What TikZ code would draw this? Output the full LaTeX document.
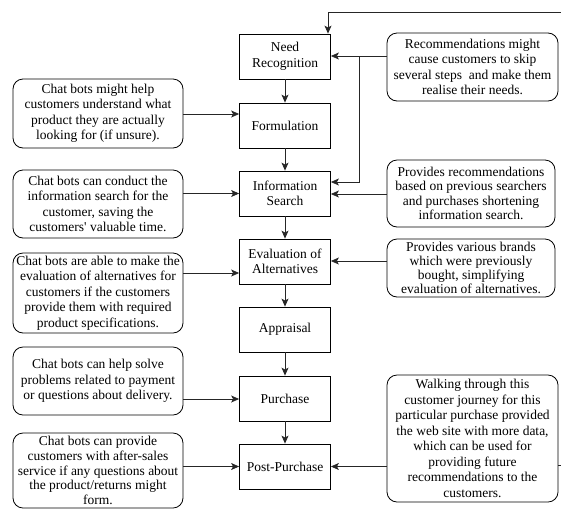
\documentclass[tikz,border=0pt]{standalone}
\usepackage{fontspec}
\setmainfont{Liberation Serif}
\newfontfamily\tnrfont{Liberation Serif}
\usetikzlibrary{arrows.meta}
\begin{document}
\begin{tikzpicture}[x=1pt,y=-1pt,
  base/.style={draw=black, line width=0.8pt, align=center, inner sep=0pt,
    font=\tnrfont\fontsize{13.5}{15.5}\selectfont},
  stage/.style={base, minimum width=91pt, minimum height=45pt},
  note/.style={base, rounded corners=10pt},
  conn/.style={draw=black!85, line width=0.8pt, -{Stealth[length=8pt,width=7pt,inset=2pt]}},
  plain/.style={draw=black!85, line width=0.8pt}]
\useasboundingbox (0,0) rectangle (561,509);

% main stages
\node[stage] (need)  at (285,56.5)  {Need\\Recognition};
\node[stage] (form)  at (285,125.5) {Formulation};
\node[stage] (info)  at (285,193.5) {Information\\Search};
\node[stage] (eval)  at (285,261.5) {Evaluation of\\Alternatives};
\node[stage] (appr)  at (285,329.5) {Appraisal};
\node[stage] (purch) at (285,398.5) {Purchase};
\node[stage] (post)  at (285,466.5) {Post-Purchase};

% left notes
\node[note, minimum width=170pt, minimum height=69pt] (l1) at (98,113.5)
  {Chat bots might help\\customers understand what\\product they are actually\\looking for (if unsure).};
\node[note, minimum width=170pt, minimum height=68pt] (l2) at (98,204)
  {Chat bots can conduct the\\information search for the\\customer, saving the\\customers' valuable time.};
\node[note, minimum width=170pt, minimum height=80pt] (l3) at (98,293)
  {Chat bots are able to make the\\evaluation of alternatives for\\customers if the customers\\provide them with required\\product specifications.};
\node[note, minimum width=170pt, minimum height=68pt] (l4) at (98,381)
  {Chat bots can help solve\\problems related to payment\\or questions about delivery.};
\node[note, minimum width=170pt, minimum height=75pt,
  font=\tnrfont\fontsize{13.5}{14.6}\selectfont] (l5) at (98,470.5)
  {Chat bots can provide\\customers with after-sales\\service if any questions about\\the product/returns might\\form.};

% right notes
\node[note, minimum width=171pt, minimum height=68pt] (r1) at (472.5,67)
  {Recommendations might\\cause customers to skip\\several steps\ \ and make them\\realise their needs.};
\node[note, minimum width=168pt, minimum height=67pt,
  font=\tnrfont\fontsize{13.5}{14.2}\selectfont] (r2) at (471,193.5)
  {Provides recommendations\\based on previous searchers\\and purchases shortening\\information search.};
\node[note, minimum width=168pt, minimum height=58pt,
  font=\tnrfont\fontsize{13.5}{14}\selectfont] (r3) at (471,268)
  {Provides various brands\\which were previously\\bought, simplifying\\evaluation of alternatives.};
\node[note, minimum width=171pt, minimum height=127pt] (r4) at (472.5,438.5)
  {Walking through this\\customer journey for this\\particular purchase provided\\the web site with more data,\\which can be used for\\providing future\\recommendations to the\\customers.};

% main chain
\draw[conn] (need) -- (form);
\draw[conn] (form) -- (info);
\draw[conn] (info) -- (eval);
\draw[conn] (eval) -- (appr);
\draw[conn] (appr) -- (purch);
\draw[conn] (purch) -- (post);

% left connectors
\draw[conn] (l1.east |- 0,114) -- (form.west |- 0,114);
\draw[conn] (l2.east |- 0,193.5) -- (info.west |- 0,193.5);
\draw[conn] (l3.east |- 0,273) -- (eval.west |- 0,273);
\draw[conn] (l4.east |- 0,399) -- (purch.west |- 0,399);
\draw[conn] (l5.east |- 0,466.5) -- (post.west |- 0,466.5);

% right connectors
\coordinate (br) at (359,56);
\draw[conn] (r1.west |- br) -- (need.east |- br);
\draw[conn] (br) |- (info.east |- 0,182);
\draw[conn] (r2.west |- 0,194) -- (info.east |- 0,194);
\draw[conn] (r3.west |- 0,261) -- (eval.east |- 0,261);
\draw[conn] (r4.west |- 0,466.5) -- (post.east |- 0,466.5);

% loop back (runs off the picture)
\coordinate (topR) at (561,12);
\coordinate (topL) at (328,12);
\draw[conn] (topR) -- (topL) -- (need.north -| topL);
\coordinate (r4R) at (561,465);
\draw[plain] (r4.east |- r4R) -- (r4R);
\end{tikzpicture}
\end{document}
